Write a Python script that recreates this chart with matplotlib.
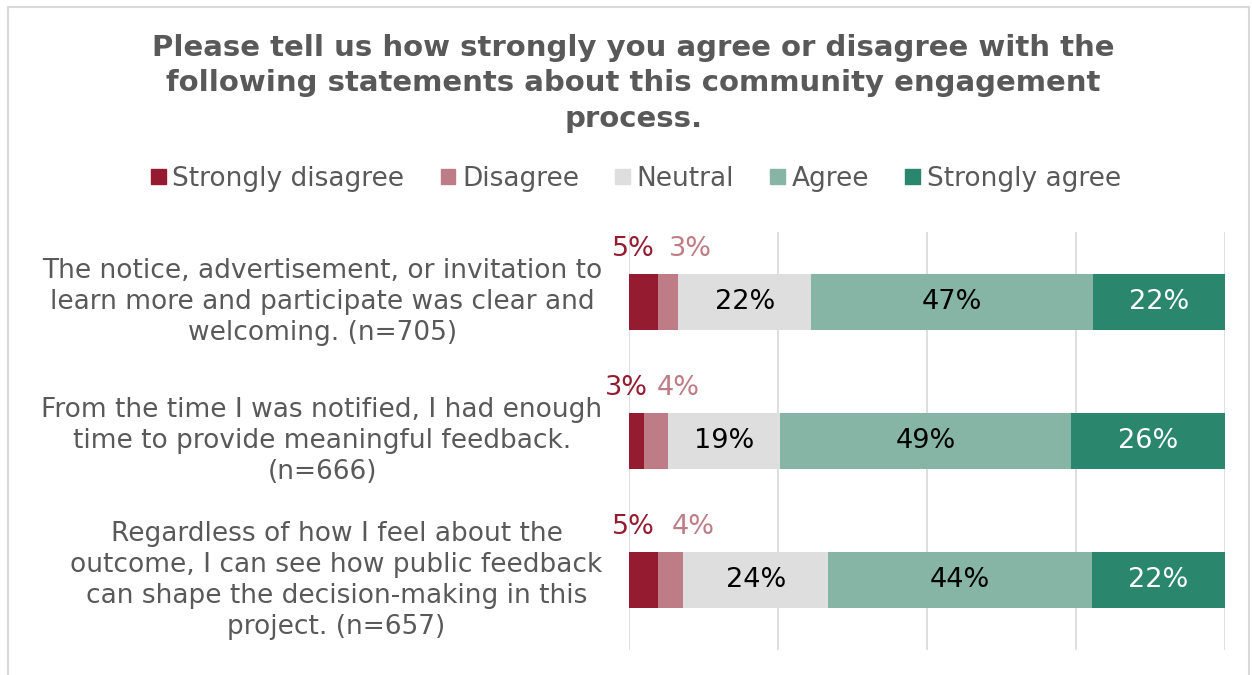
import numpy as np
import matplotlib
matplotlib.use("Agg")
import matplotlib.pyplot as plt
from matplotlib.patches import Patch, Rectangle

TITLE = ("Please tell us how strongly you agree or disagree with the\n"
         "following statements about this community engagement\nprocess.")
SERIES = ["Strongly disagree", "Disagree", "Neutral", "Agree", "Strongly agree"]
COLORS = ["#951B30", "#BE7C86", "#DEDEDE", "#86B5A6", "#2A866C"]
TEXT_COLORS = ["#951B30", "#BE7C86", "black", "black", "white"]
QUESTIONS = [
    "The notice, advertisement, or invitation to\nlearn more and participate was clear and\nwelcoming. (n=705)",
    "From the time I was notified, I had enough\ntime to provide meaningful feedback.\n(n=666)",
    "Regardless of how I feel about the\noutcome, I can see how public feedback\ncan shape the decision-making in this\nproject. (n=657)",
]
strongly_disagree = [4.9, 2.6, 4.9]
disagree = [3.4, 4.0, 4.2]
neutral = [22.3, 18.8, 24.3]
agree = [47.3, 48.8, 44.3]
strongly_agree = [22.1, 25.8, 22.3]

GRAY = "#595959"
data = np.array([strongly_disagree, disagree, neutral, agree, strongly_agree])

fig = plt.figure(figsize=(12.52, 6.75), dpi=100)
ax = fig.add_axes([0.5024, 0.037, 0.4760, 0.6193])
y = np.arange(len(QUESTIONS))
left = np.zeros(len(QUESTIONS))
for k, (vals, col) in enumerate(zip(data, COLORS)):
    ax.barh(y, vals, left=left, height=0.4, color=col, zorder=3)
    for i, v in enumerate(vals):
        cx = left[i] + v / 2
        if k >= 2:
            ax.text(cx, i, f"{v:.0f}%", ha="center", va="center", fontsize=19.5,
                    color=TEXT_COLORS[k], zorder=4)
        else:
            # the two thin segments get their labels above the bar
            off = -10 if k == 0 else 22
            ax.annotate(f"{v:.0f}%", (cx, i - 0.2), xytext=(off * 0.72, 18),
                        textcoords="offset points", ha="center", va="center",
                        fontsize=19.5, color=TEXT_COLORS[k], zorder=4)
    left += vals

ax.set_xlim(0, 100)
ax.set_ylim(2.5, -0.5)
ax.set_xticks([0, 25, 50, 75, 100])
ax.xaxis.grid(True, color="#D9D9D9", lw=1.2, zorder=0)
ax.set_xticklabels([])
ax.set_yticks([])
ax.tick_params(length=0)
for s in ax.spines.values():
    s.set_visible(False)

for i, q in enumerate(QUESTIONS):
    ax.annotate(q, (0, i), xytext=(-19, 0), textcoords="offset points", ha="right",
                va="center", multialignment="center", fontsize=19, color=GRAY,
                linespacing=1.25, annotation_clip=False)

fig.text(0.506, 0.950, TITLE, ha="center", va="top", fontsize=21, fontweight="bold",
         color=GRAY, linespacing=1.34)
handles = [Patch(color=c, label=s) for s, c in zip(SERIES, COLORS)]
fig.legend(handles=handles, loc="center", bbox_to_anchor=(0.508, 0.735), ncol=5,
           frameon=False, fontsize=19, labelcolor=GRAY, handlelength=0.55, handleheight=0.55,
           handletextpad=0.25, columnspacing=1.38)
fig.patches.append(Rectangle((0.006, -0.1), 0.992, 1.09, transform=fig.transFigure,
                             fill=False, ec="#D9D9D9", lw=1.5))
fig.savefig("out.png", dpi=100)
